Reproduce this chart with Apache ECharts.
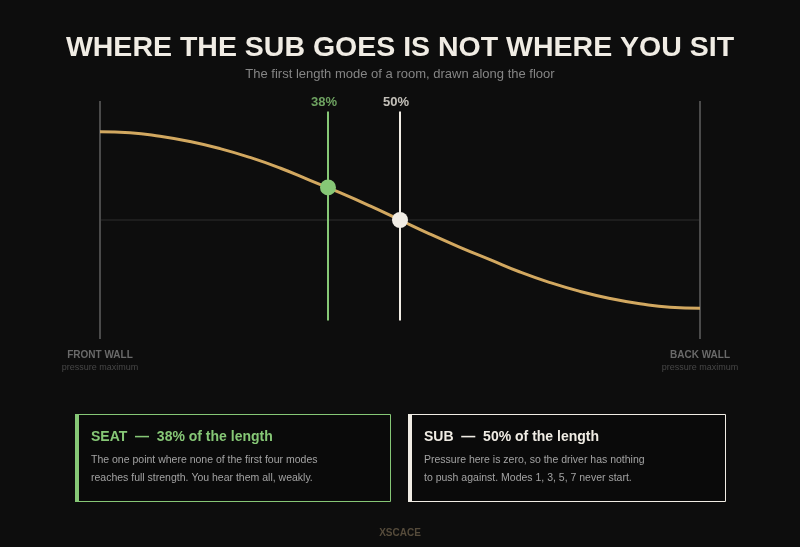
<!DOCTYPE html>
<html><head><meta charset="utf-8">
<script src="https://cdn.jsdelivr.net/npm/echarts@6/dist/echarts.min.js"></script>
<style>html,body{margin:0;padding:0;background:#0d0d0d;}#c{width:800px;height:547px;}</style>
</head><body><div id="c"></div>
<script>
// Position along the floor (fraction of room length)
const positions = [0,0.05,0.1,0.15,0.2,0.25,0.3,0.35,0.4,0.45,0.5,0.55,0.6,0.65,0.7,0.75,0.8,0.85,0.9,0.95,1];
// Relative pressure of the first length mode
const pressure = [1.00,0.99,0.95,0.89,0.81,0.71,0.59,0.45,0.31,0.16,0.00,-0.16,-0.31,-0.45,-0.59,-0.71,-0.81,-0.89,-0.95,-0.99,-1.00];
const seatPos = 0.38, seatVal = 0.37;
const subPos = 0.50, subVal = 0.00;
const markerLabels = ['38%','50%'];

const FONT = '"Liberation Sans", Arial, sans-serif';
const GREEN = '#86c776', WHITE = '#f0ece4', GOLD = '#d2a860';

const chart = echarts.init(document.getElementById('c'), null, {renderer:'canvas'});
const option = {
  backgroundColor:'#0d0d0d',
  animation:false,
  title:[
    {text:'WHERE THE SUB GOES IS NOT WHERE YOU SIT', left:'center', top:29,
     textStyle:{color:WHITE, fontFamily:FONT, fontWeight:'bold', fontSize:28.5}},
    {text:'The first length mode of a room, drawn along the floor', left:'center', top:63,
     textStyle:{color:'#858585', fontFamily:FONT, fontWeight:'normal', fontSize:13}}
  ],
  grid:{left:100, right:100, top:101, bottom:208},
  xAxis:{type:'value', min:0, max:1, show:false},
  yAxis:{type:'value', min:-1.35, max:1.35, show:false},
  series:[
    {type:'line', data:[[0,0],[1,0]], symbol:'none', lineStyle:{color:'#2e2e2e', width:1}, z:1},
    {type:'line', data:[[0,-1.35],[0,1.35]], symbol:'none', lineStyle:{color:'#4a4a4a', width:2}, z:1},
    {type:'line', data:[[1,-1.35],[1,1.35]], symbol:'none', lineStyle:{color:'#4a4a4a', width:2}, z:1},
    {type:'line', data:positions.map((p,i)=>[p,pressure[i]]), smooth:true, symbol:'none',
     lineStyle:{color:GOLD, width:3}, z:2},
    {type:'line', data:[[seatPos,-1.14],[seatPos,1.23]], symbol:'none', lineStyle:{color:GREEN, width:2}, z:3},
    {type:'line', data:[[subPos,-1.14],[subPos,1.23]], symbol:'none', lineStyle:{color:WHITE, width:2}, z:3},
    {type:'scatter', data:[[seatPos,seatVal]], symbolSize:16, itemStyle:{color:GREEN, opacity:1}, z:4},
    {type:'scatter', data:[[subPos,subVal]], symbolSize:16, itemStyle:{color:WHITE, opacity:1}, z:4},
    {type:'scatter', data:[[seatPos,1.23]], symbolSize:0, z:5,
     label:{show:true, position:'top', distance:3, offset:[-4,0], formatter:markerLabels[0], color:GREEN, fontFamily:FONT, fontWeight:'bold', fontSize:13}},
    {type:'scatter', data:[[subPos,1.23]], symbolSize:0, z:5,
     label:{show:true, position:'top', distance:3, offset:[-4,0], formatter:markerLabels[1], color:WHITE, fontFamily:FONT, fontWeight:'bold', fontSize:13}}
  ],
  graphic:[
    {type:'text', x:100, top:350, style:{text:'FRONT WALL', fill:'#6a6a6a', font:'bold 10px '+FONT, textAlign:'center'}},
    {type:'text', x:100, top:363, style:{text:'pressure maximum', fill:'#474747', font:'9px '+FONT, textAlign:'center'}},
    {type:'text', x:700, top:350, style:{text:'BACK WALL', fill:'#6a6a6a', font:'bold 10px '+FONT, textAlign:'center'}},
    {type:'text', x:700, top:363, style:{text:'pressure maximum', fill:'#474747', font:'9px '+FONT, textAlign:'center'}},
    // seat box
    {type:'rect', shape:{x:75.5, y:414.5, width:315, height:87}, style:{fill:'#0a0a0a', stroke:GREEN, lineWidth:1}},
    {type:'rect', shape:{x:75, y:414, width:4, height:88}, style:{fill:GREEN}},
    {type:'text', left:91, top:430, style:{text:'SEAT  —  38% of the length', fill:GREEN, font:'bold 14px '+FONT}},
    {type:'text', left:91, top:451, style:{text:'The one point where none of the first four modes\nreaches full strength. You hear them all, weakly.', fill:'#a3a3a3', font:'10.5px '+FONT, lineHeight:18}},
    // sub box
    {type:'rect', shape:{x:408.5, y:414.5, width:317, height:87}, style:{fill:'#0a0a0a', stroke:WHITE, lineWidth:1}},
    {type:'rect', shape:{x:408, y:414, width:4, height:88}, style:{fill:WHITE}},
    {type:'text', left:424, top:430, style:{text:'SUB  —  50% of the length', fill:WHITE, font:'bold 14px '+FONT}},
    {type:'text', left:424, top:451, style:{text:'Pressure here is zero, so the driver has nothing\nto push against. Modes 1, 3, 5, 7 never start.', fill:'#a3a3a3', font:'10.5px '+FONT, lineHeight:18}},
    {type:'text', left:'center', top:528, style:{text:'XSCACE', fill:'#554b3b', font:'bold 10px '+FONT}}
  ]
};
chart.setOption(option);
</script></body></html>
